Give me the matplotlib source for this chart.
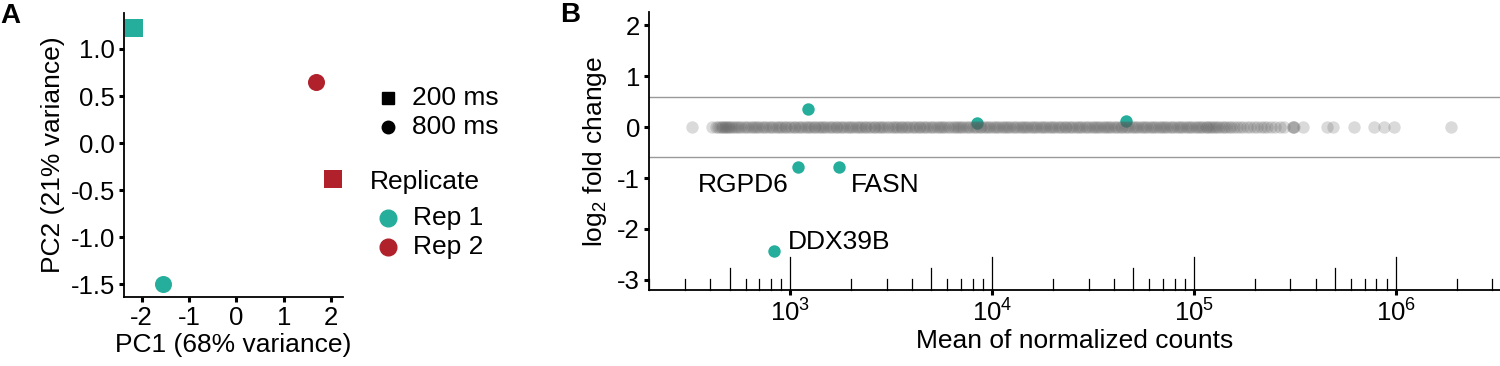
import matplotlib.pyplot as plt
import numpy as np
from matplotlib.lines import Line2D

plt.rcParams['font.family'] = ['Liberation Sans', 'DejaVu Sans']
plt.rcParams['mathtext.fontset'] = 'custom'
plt.rcParams['mathtext.rm'] = 'Liberation Sans'
plt.rcParams['mathtext.it'] = 'Liberation Sans:italic'
plt.rcParams['axes.unicode_minus'] = False

TEAL = '#25AE9C'
RED = '#B0212B'

# panel A: PCA of samples
pca_pc1 = [-2.15, 1.68, 2.03, -1.55]
pca_pc2 = [1.226, 0.646, -0.38, -1.50]
pca_exposure = ['200 ms', '800 ms', '200 ms', '800 ms']
pca_replicate = ['Rep 1', 'Rep 2', 'Rep 2', 'Rep 1']

# panel B: MA plot, log10 of mean normalized counts for non-significant genes
gray_log10_mean = [
    2.515, 2.610, 2.632,
    2.641, 2.652, 2.660, 2.668, 2.675, 2.683, 2.690, 2.697,
    2.704, 2.715, 2.727, 2.736, 2.748, 2.757, 2.769, 2.780, 2.791,
    2.803, 2.813, 2.826, 2.835, 2.847, 2.858, 2.868, 2.881, 2.892,
    2.905, 2.914, 2.927, 2.937, 2.948, 2.959, 2.971, 2.980, 2.993,
    3.004, 3.016, 3.025, 3.038, 3.047, 3.059, 3.070, 3.080, 3.092,
    3.103, 3.115, 3.124, 3.136, 3.148, 3.157, 3.169, 3.178, 3.190,
    3.201, 3.213, 3.224, 3.233, 3.246, 3.257, 3.266, 3.279, 3.291,
    3.302, 3.311, 3.323, 3.335, 3.344, 3.356, 3.368, 3.377, 3.389,
    3.400, 3.412, 3.421, 3.433, 3.445, 3.454, 3.466, 3.477, 3.488,
    3.503, 3.511, 3.524, 3.533, 3.546, 3.555, 3.567, 3.579, 3.590,
    3.601, 3.614, 3.622, 3.635, 3.644, 3.657, 3.666, 3.679, 3.691,
    3.702, 3.712, 3.725, 3.736, 3.745, 3.758, 3.767, 3.780, 3.789,
    3.804, 3.813, 3.826, 3.834, 3.847, 3.856, 3.869, 3.878, 3.891,
    3.903, 3.915, 3.924, 3.937, 3.946, 3.958, 3.969, 3.981, 3.990,
    4.002, 4.014, 4.025, 4.034, 4.047, 4.056, 4.068, 4.080, 4.089,
    4.104, 4.112, 4.125, 4.136, 4.145, 4.157, 4.169, 4.178, 4.191,
    4.201, 4.213, 4.222, 4.235, 4.247, 4.256, 4.267, 4.279, 4.290,
    4.303, 4.311, 4.324, 4.336, 4.345, 4.358, 4.366, 4.379, 4.391,
    4.400, 4.413, 4.425, 4.433, 4.446, 4.457, 4.468, 4.478, 4.492,
    4.502, 4.515, 4.523, 4.536, 4.547, 4.556, 4.569, 4.578, 4.590,
    4.604, 4.613, 4.624, 4.637, 4.645, 4.658, 4.668, 4.679, 4.691,
    4.701, 4.714, 4.723, 4.735, 4.746, 4.757, 4.766, 4.780, 4.789,
    4.803, 4.812, 4.826, 4.835, 4.847, 4.858, 4.867, 4.879, 4.892,
    4.902, 4.913, 4.925, 4.934, 4.947, 4.958, 4.968, 4.979, 4.991,
    5.003, 5.012, 5.025, 5.036, 5.044, 5.057, 5.066, 5.074, 5.083,
    5.092, 5.104, 5.113, 5.125, 5.136, 5.146, 5.158, 5.171, 5.184,
    5.198, 5.213, 5.229, 5.244, 5.262, 5.275, 5.295, 5.312, 5.330,
    5.346, 5.362, 5.381, 5.402, 5.425, 5.446, 5.488, 5.490, 5.494,
    5.540, 5.660, 5.690, 5.790, 5.890, 5.940, 5.990, 6.270,
]
gray_lfc = np.zeros(len(gray_log10_mean))

sig_mean = [1224, 8390, 46000, 1095, 1750, 825]
sig_lfc = [0.353, 0.085, 0.124, -0.78, -0.78, -2.44]
sig_label = ['', '', '', 'RGPD6', 'FASN', 'DDX39B']
label_offset = {'RGPD6': (-7, -13, 'right'), 'FASN': (8, -13, 'left'),
                'DDX39B': (10, 7, 'left')}
lfc_threshold = 0.585

fig = plt.figure(figsize=(15, 3.66), dpi=100)

# ---------------- panel A
axA = fig.add_axes([0.0827, 0.1885, 0.146, 0.7755])
for x, y, e, r in zip(pca_pc1, pca_pc2, pca_exposure, pca_replicate):
    axA.scatter(x, y, marker='s' if e == '200 ms' else 'o', s=150,
                color=TEAL if r == 'Rep 1' else RED, linewidths=0, zorder=3)
axA.set_xlim(-2.37, 2.25)
axA.set_ylim(-1.635, 1.38)
axA.set_xticks([-2, -1, 0, 1, 2])
axA.set_yticks([-1.5, -1.0, -0.5, 0.0, 0.5, 1.0])
axA.set_yticklabels(['-1.5', '-1.0', '-0.5', '0.0', '0.5', '1.0'])
axA.set_xlabel('PC1 (68% variance)', fontsize=19, labelpad=2)
axA.set_ylabel('PC2 (21% variance)', fontsize=19, labelpad=4)

# legend for panel A, drawn in figure coordinates
def fig_marker(x, y, marker, color, size):
    fig.add_artist(Line2D([x / 1500], [1 - y / 366], marker=marker, color=color,
                          markersize=size, linestyle='none',
                          transform=fig.transFigure))

fig_marker(388, 98, 's', 'black', 9)
fig_marker(388, 127, 'o', 'black', 9)
fig.text(412 / 1500, 1 - 98 / 366, '200 ms', fontsize=19, va='center')
fig.text(412 / 1500, 1 - 127 / 366, '800 ms', fontsize=19, va='center')
fig.text(370 / 1500, 1 - 182 / 366, 'Replicate', fontsize=19, va='center')
fig_marker(388, 218, 'o', TEAL, 12)
fig_marker(388, 247, 'o', RED, 12)
fig.text(413 / 1500, 1 - 218 / 366, 'Rep 1', fontsize=19, va='center')
fig.text(413 / 1500, 1 - 247 / 366, 'Rep 2', fontsize=19, va='center')

# ---------------- panel B
axB = fig.add_axes([0.4327, 0.2077, 0.5673, 0.7587])
axB.axhline(lfc_threshold, color='#999999', lw=1.0, zorder=1)
axB.axhline(-lfc_threshold, color='#999999', lw=1.0, zorder=1)
axB.scatter(sig_mean, sig_lfc, s=80, color=TEAL, linewidths=0, zorder=2)
axB.scatter(10 ** np.array(gray_log10_mean), gray_lfc, s=80, color='#5a5a5a',
            alpha=0.22, linewidths=0, zorder=3)
for x, y, lab in zip(sig_mean, sig_lfc, sig_label):
    if lab:
        dx, dy, ha = label_offset[lab]
        axB.annotate(lab, (x, y), xytext=(dx, dy), textcoords='offset points',
                     fontsize=19, ha=ha, va='center', zorder=4)
axB.set_xscale('log')
axB.set_xlim(10 ** 2.3, 10 ** 6.515)
axB.set_ylim(-3.196, 2.25)
axB.set_yticks([-3, -2, -1, 0, 1, 2])
axB.set_xticks([1e3, 1e4, 1e5, 1e6])
axB.set_xticklabels([r'$10^3$', r'$10^4$', r'$10^5$', r'$10^6$'])
axB.xaxis.set_minor_locator(plt.NullLocator())
axB.set_xlabel('Mean of normalized counts', fontsize=19, labelpad=2)
axB.set_ylabel(r'log$_2$ fold change', fontsize=19, labelpad=6)

# log ticks drawn inside the panel
trans = axB.get_xaxis_transform()
for dec in range(2, 7):
    for m in range(1, 10):
        v = m * 10 ** dec
        if v < 10 ** 2.3 or v > 10 ** 6.515:
            continue
        h = 0.119 if m == 1 else (0.079 if m == 5 else 0.040)
        axB.plot([v, v], [0, h], color='black', lw=0.9, transform=trans,
                 clip_on=False, zorder=5)

for ax in (axA, axB):
    ax.spines['top'].set_visible(False)
    ax.spines['right'].set_visible(False)
    ax.spines['left'].set_linewidth(1.3)
    ax.spines['bottom'].set_linewidth(1.3)
    ax.tick_params(axis='both', which='major', direction='out', length=3.5,
                   width=2.2, labelsize=18.5, pad=3, color='black')

fig.text(0.0, 1 - 16 / 366, 'A', fontsize=20, fontweight='bold', va='center')
fig.text(560 / 1500, 1 - 15 / 366, 'B', fontsize=20, fontweight='bold', va='center')

fig.savefig('out.png', dpi=100)
